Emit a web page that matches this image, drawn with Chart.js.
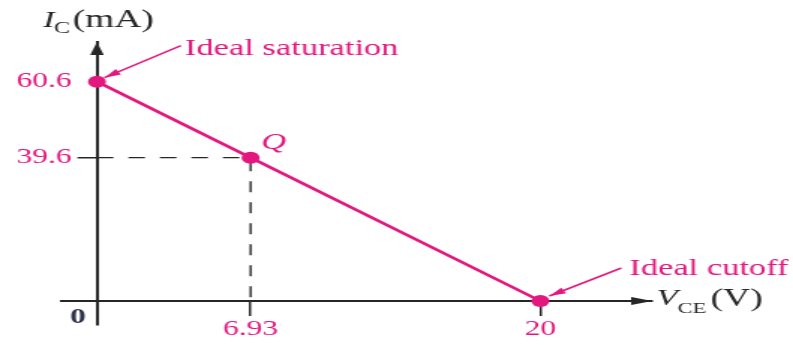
<!DOCTYPE html>
<html>
<head>
<meta charset="utf-8">
<script src="https://cdn.jsdelivr.net/npm/chart.js@4.4.0/dist/chart.umd.min.js"></script>
<style>
  html, body { margin: 0; padding: 0; background: #fff; overflow: hidden; }
  /* the figure is drawn narrow and widened horizontally */
  #wrap { width: 529px; height: 345px; transform: scaleX(1.4991); transform-origin: 0 0; }
  canvas { display: block; }
</style>
</head>
<body>
<div id="wrap"><canvas id="chart" width="529" height="345"></canvas></div>
<script>
// DC load line: collector current vs collector-emitter voltage
const vce = [0, 6.93, 20];          // V
const ic = [60.6, 39.6, 0];         // mA
const qIndex = 1;                   // operating point
const pointNotes = ['Ideal saturation', 'Q', 'Ideal cutoff'];
const xTicks = [6.93, 20];
const yTicks = [39.6, 60.6];

const MAGENTA = '#E3177E';
const INK = '#262626';
const SERIF = '"Liberation Serif", "Times New Roman", serif';

const loadLine = vce.map((v, i) => ({ x: v, y: ic[i] }));
const qGuide = [
  { x: 0, y: ic[qIndex] },
  { x: vce[qIndex], y: ic[qIndex] },
  { x: vce[qIndex], y: 0 }
];

function arrowHead(ctx, x1, y1, x2, y2, len, half) {
  const a = Math.atan2(y2 - y1, x2 - x1);
  const bx = x2 - len * Math.cos(a), by = y2 - len * Math.sin(a);
  ctx.beginPath();
  ctx.moveTo(x2, y2);
  ctx.lineTo(bx + half * Math.sin(a), by - half * Math.cos(a));
  ctx.lineTo(bx - half * Math.sin(a), by + half * Math.cos(a));
  ctx.closePath();
  ctx.fill();
}

function pointer(ctx, x1, y1, x2, y2) {
  ctx.beginPath();
  ctx.moveTo(x1, y1);
  ctx.lineTo(x2, y2);
  ctx.stroke();
  arrowHead(ctx, x1, y1, x2, y2, 11, 3.2);
}

const decor = {
  id: 'decor',
  afterDatasetsDraw(chart) {
    const { ctx, chartArea: ca, scales: { x, y } } = chart;
    const x0 = x.getPixelForValue(0);
    const y0 = y.getPixelForValue(0);
    const pts = chart.getDatasetMeta(0).data;
    ctx.save();

    // V_CE axis continues a little to the left of the origin
    ctx.strokeStyle = INK;
    ctx.lineWidth = 2;
    ctx.beginPath();
    ctx.moveTo(x0 - 24.7, y0);
    ctx.lineTo(x0, y0);
    ctx.stroke();

    // axis arrowheads
    ctx.fillStyle = INK;
    arrowHead(ctx, x0, ca.bottom, x0, ca.top, 13, 4.5);
    arrowHead(ctx, ca.left, y0, ca.right, y0, 14, 4);

    // axis titles
    ctx.textAlign = 'left';
    ctx.textBaseline = 'alphabetic';
    ctx.font = `italic 23px ${SERIF}`;
    ctx.fillText('I', x0 - 36, ca.top - 15);
    ctx.font = `16px ${SERIF}`;
    ctx.fillText('C', x0 - 28.7, ca.top - 9);
    ctx.font = `25px ${SERIF}`;
    ctx.fillText('(mA)', x0 - 16.2, ca.top - 15);

    ctx.font = `italic 23px ${SERIF}`;
    ctx.fillText('V', ca.right + 3, y0 + 4);
    ctx.font = `15px ${SERIF}`;
    ctx.fillText('CE', ca.right + 17, y0 + 12);
    ctx.font = `25px ${SERIF}`;
    ctx.fillText('(V)', ca.right + 39, y0 + 5);

    // origin label
    ctx.fillStyle = '#2a2f45';
    ctx.font = `bold 21px ${SERIF}`;
    ctx.textAlign = 'center';
    ctx.fillText('0', x0 - 12.7, y0 + 22);

    // point notes
    ctx.fillStyle = MAGENTA;
    ctx.strokeStyle = MAGENTA;
    ctx.lineWidth = 1.5;
    ctx.textAlign = 'left';

    const ps = pts[0];
    pointer(ctx, ps.x + 56, ps.y - 36, ps.x + 5, ps.y - 4);
    ctx.font = `23px ${SERIF}`;
    ctx.fillText(pointNotes[0], ps.x + 58.7, ps.y - 27);

    const pq = pts[qIndex];
    ctx.font = `italic 23px ${SERIF}`;
    ctx.fillText(pointNotes[1], pq.x + 7, pq.y - 9);

    const pc = pts[2];
    pointer(ctx, pc.x + 54, pc.y - 33, pc.x + 6, pc.y - 5);
    ctx.font = `23px ${SERIF}`;
    ctx.fillText(pointNotes[2], pc.x + 59.3, pc.y - 26);

    ctx.restore();
  }
};

const hideTick = (v) => (ctx) => (ctx.tick && ctx.tick.value === v ? 'rgba(0,0,0,0)' : INK);

new Chart(document.getElementById('chart'), {
  type: 'scatter',
  data: {
    datasets: [
      {
        data: loadLine,
        showLine: true,
        borderColor: MAGENTA,
        borderWidth: 2.6,
        pointRadius: 6,
        pointBackgroundColor: MAGENTA,
        pointBorderWidth: 0,
        clip: false,
        order: 0
      },
      {
        data: qGuide,
        showLine: true,
        borderColor: INK,
        borderWidth: 1.4,
        borderDash: [11, 10],
        pointRadius: 0,
        order: 1
      }
    ]
  },
  plugins: [decor],
  options: {
    responsive: false,
    devicePixelRatio: 1,
    animation: false,
    events: [],
    layout: { padding: { left: 4.67, right: 94, top: 42, bottom: 20 } },
    plugins: { legend: { display: false }, tooltip: { enabled: false } },
    scales: {
      x: {
        type: 'linear',
        position: { y: 0 },
        min: 0,
        max: 25.04,
        afterBuildTicks: (s) => { s.ticks = xTicks.map((v) => ({ value: v })); },
        grid: { drawOnChartArea: false, tickLength: 14, lineWidth: 1.5, color: INK, tickColor: INK },
        border: { display: true, color: INK, width: 2 },
        ticks: {
          autoSkip: false, maxRotation: 0, padding: 2,
          color: MAGENTA,
          font: { family: SERIF, size: 21 },
          callback: (v) => String(v)
        }
      },
      y: {
        type: 'linear',
        position: 'left',
        min: -6.63,
        max: 71.55,
        afterFit: (s) => { s.width = 60; },
        afterBuildTicks: (s) => { s.ticks = yTicks.map((v) => ({ value: v })); },
        grid: { drawOnChartArea: false, tickLength: 13, lineWidth: 1.5, color: hideTick(60.6), tickColor: hideTick(60.6) },
        border: { display: true, color: INK, width: 2 },
        ticks: {
          autoSkip: false, padding: 4,
          color: MAGENTA,
          font: { family: SERIF, size: 21 },
          callback: (v) => String(v)
        }
      }
    }
  }
});
</script>
</body>
</html>
